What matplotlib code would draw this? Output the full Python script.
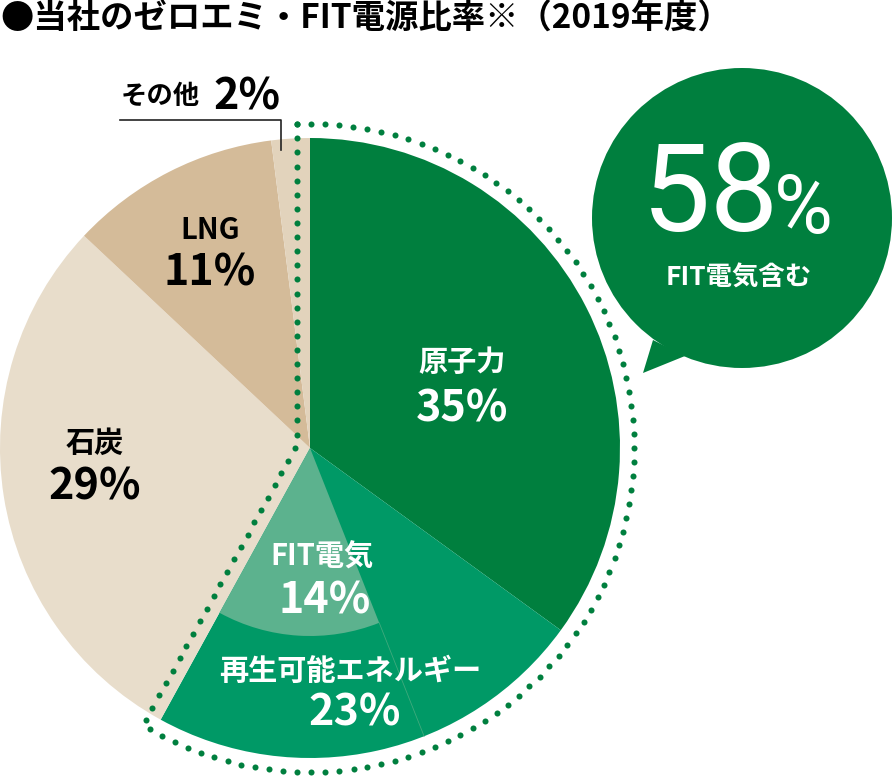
import numpy as np
import matplotlib.pyplot as plt
from matplotlib.patches import Circle, Polygon

# 日本語フォント
plt.rcParams['font.family'] = ['Noto Sans CJK JP', 'DejaVu Sans']

############# データ
title = '●当社のゼロエミ・FIT電源比率※（2019年度）'
labels = ['原子力', '再生可能エネルギー', '石炭', 'LNG', 'その他']
shares = [35, 23, 29, 11, 2]
fit_label = 'FIT電気'
fit_share = 14
bubble_note = 'FIT電気含む'

colors = ['#007f3e', '#009966', '#e8ddcb', '#d4bb99', '#e2d3bc']
fit_color = '#5cb28e'
green = '#007f3e'

############# 描画
W, H = 892, 780
fig = plt.figure(figsize=(W / 100, H / 100), dpi=100)
ax = fig.add_axes([0, 0, 1, 1])

# 円グラフの中心と半径（ピクセル座標、y は上向き）
cx, cy = 310, H - 448
R = 310
R_fit = 188

# 電源構成
ax.pie(shares, colors=colors, startangle=90, counterclock=False,
       radius=R, center=(cx, cy), wedgeprops=dict(linewidth=0))

# FIT電気（再エネの内側）
zero_emi = shares[0] + shares[1]
ax.pie([zero_emi - fit_share, fit_share, 100 - zero_emi],
       colors=['none', fit_color, 'none'], startangle=90, counterclock=False,
       radius=R_fit, center=(cx, cy), wedgeprops=dict(linewidth=0))

# 再エネの中の薄い区切り線
a = np.deg2rad(90 - 360 * (zero_emi - fit_share) / 100)
ax.plot([cx + R_fit * np.cos(a), cx + R * np.cos(a)],
        [cy + R_fit * np.sin(a), cy + R * np.sin(a)], color='#3faa7d', lw=0.6)

# ゼロエミ部分を囲む点線
d = 13
Rd = 324
a1 = np.deg2rad(90 - 360 * zero_emi / 100)
u = np.array([np.cos(a1), np.sin(a1)])
n = np.array([u[1], -u[0]])
c = np.array([cx, cy])
t0 = -d * (1 + n[0]) / u[0]
corner = c + d * n + t0 * u
top = np.array([cx - d, cy + np.sqrt(Rd ** 2 - d ** 2)])
bottom = c + d * n + np.sqrt(Rd ** 2 - d ** 2) * u
ang_top = np.arctan2(top[1] - cy, top[0] - cx)
ang_bot = np.arctan2(bottom[1] - cy, bottom[0] - cx)
arc = np.linspace(ang_bot, ang_top, 600)

px = np.concatenate([np.linspace(top[0], corner[0], 200),
                     np.linspace(corner[0], bottom[0], 300),
                     cx + Rd * np.cos(arc)])
py = np.concatenate([np.linspace(top[1], corner[1], 200),
                     np.linspace(corner[1], bottom[1], 300),
                     cy + Rd * np.sin(arc)])
seg = np.hypot(np.diff(px), np.diff(py))
dist = np.concatenate([[0], np.cumsum(seg)])
step = 14
n_dots = int(dist[-1] // step)
s = np.linspace(0, dist[-1], n_dots + 1)
ax.scatter(np.interp(s, dist, px), np.interp(s, dist, py), s=19, color=green,
           linewidths=0, zorder=3)

# 吹き出し
bx, by, br = 742, H - 218, 150
ax.add_patch(Circle((bx, by), br, facecolor=green, edgecolor='none', zorder=4))
ax.add_patch(Polygon([[653, H - 340], [643, H - 373], [685, H - 356]],
                     closed=True, facecolor=green, edgecolor='none', zorder=4))
num_font = ['Liberation Sans Narrow', 'Roboto']
ax.text(710, H - 198, str(zero_emi), fontsize=88, color='white', ha='center',
        va='center', family=num_font, zorder=5)
ax.text(803, H - 211, '%', fontsize=58, color='white', ha='center',
        va='center', family=num_font, zorder=5)
ax.text(739, H - 278, bubble_note, fontsize=19, fontweight='bold', color='white',
        ha='center', va='center', zorder=5)

# ラベル
lab_fs = 21
num_fs = 31
label_pos = [(462, 362, 408, 'white'),
             (350, 671, 712, 'white'),
             (95, 443, 486, 'black'),
             (210, 230, 273, 'black')]
for i, (x, y1, y2, col) in enumerate(label_pos):
    ax.text(x, H - y1, labels[i], fontsize=lab_fs, fontweight='bold', color=col,
            ha='center', va='center', zorder=5)
    ax.text(x + (5 if i == 1 else 0), H - y2, '%d%%' % shares[i], fontsize=num_fs,
            fontweight='bold', color=col, ha='center', va='center', zorder=5)

ax.text(322, H - 557, fit_label, fontsize=lab_fs, fontweight='bold', color='white',
        ha='center', va='center', zorder=5)
ax.text(325, H - 600, '%d%%' % fit_share, fontsize=num_fs, fontweight='bold',
        color='white', ha='center', va='center', zorder=5)

# その他
ax.text(160, H - 96, labels[4], fontsize=19, fontweight='bold', color='black',
        ha='center', va='center')
ax.text(247, H - 96, '%d%%' % shares[4], fontsize=num_fs, fontweight='bold',
        color='black', ha='center', va='center')
ax.plot([120, 281, 281], [H - 120, H - 120, H - 150], color='#222222', lw=1.2)

# タイトル
ax.text(0, H - 19, title, fontsize=24, fontweight='bold', color='black',
        ha='left', va='center')

ax.set_xlim(0, W)
ax.set_ylim(0, H)
ax.set_aspect('auto')
ax.axis('off')

plt.savefig('out.png', dpi=100)
